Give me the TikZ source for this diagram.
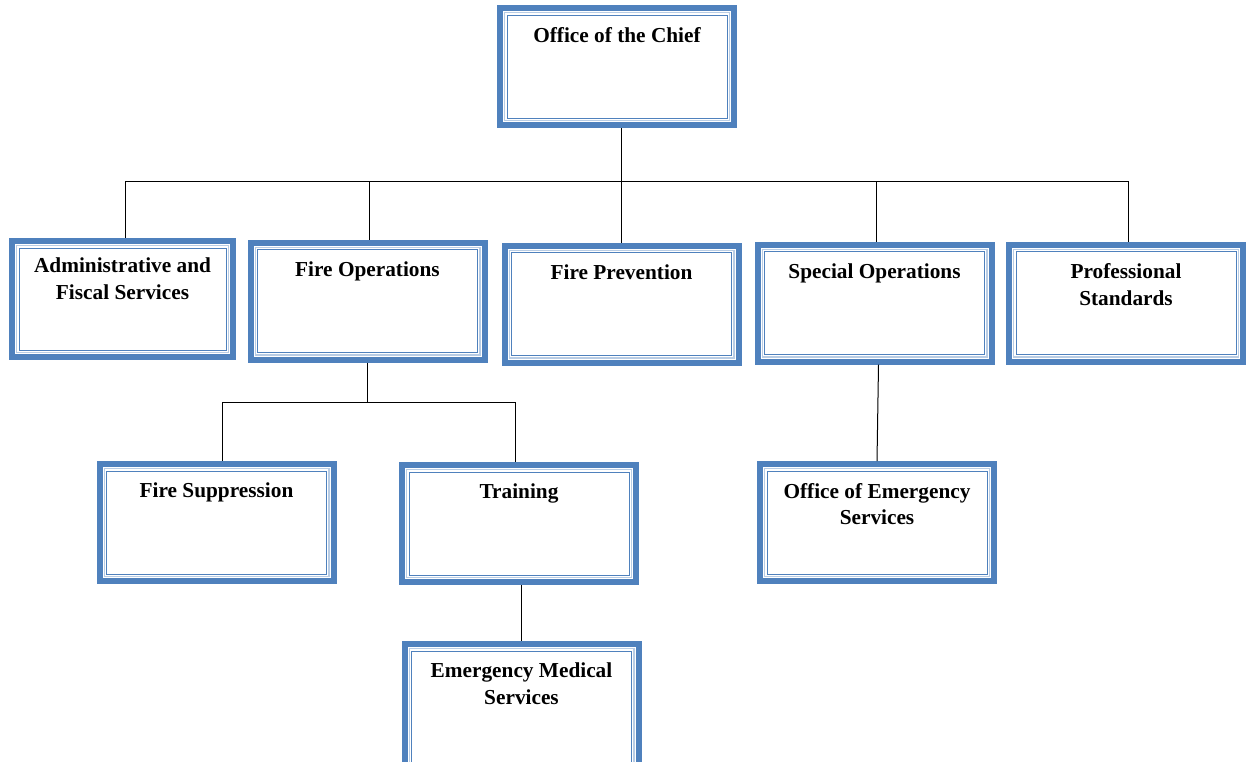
\documentclass[tikz,border=0pt]{standalone}
\usepackage{fontspec}
\setmainfont{Liberation Serif}
\definecolor{boxblue}{RGB}{79,129,189}
\definecolor{boxlight}{RGB}{184,204,228}

\begin{document}
\begin{tikzpicture}[x=1pt, y=-1pt,
    unit/.style={draw=boxblue, line width=6pt, fill=white, inner sep=0pt,
      minimum width=234pt, minimum height=117pt,
      path picture={
        \draw[boxlight, line width=1.4pt]
          ([shift={(4.7pt,-4.7pt)}]path picture bounding box.north west) rectangle
          ([shift={(-4.7pt,4.7pt)}]path picture bounding box.south east);
        \draw[boxblue, line width=1pt]
          ([shift={(7pt,-7pt)}]path picture bounding box.north west) rectangle
          ([shift={(-7pt,7pt)}]path picture bounding box.south east);
      }},
    unittext/.style={anchor=north, yshift=-22pt, inner sep=0pt, align=center,
      font=\bfseries\fontsize{21.3}{26.5}\selectfont},
    link/.style={draw=black, line width=1pt}]
  \useasboundingbox (0,0) rectangle (1246,761);

  % top
  \node[unit, label={[unittext]north:Office of the Chief}] (chief) at (617,66.5) {};

  % divisions
  \node[unit, minimum width=221pt, minimum height=116pt,
        label={[unittext, yshift=2pt]north:Administrative and\\Fiscal Services}] (admin) at (122.5,299) {};
  \node[unit, label={[unittext]north:Fire Operations}] (fireops) at (367.5,301) {};
  \node[unit, label={[unittext]north:Fire Prevention}] (prevention) at (621.5,304) {};
  \node[unit, label={[unittext]north:Special Operations}] (specops) at (874.5,303) {};
  \node[unit, label={[unittext]north:Professional\\Standards}] (prof) at (1126,303) {};

  % sections
  \node[unit, label={[unittext]north:Fire Suppression}] (suppression) at (216.5,522.5) {};
  \node[unit, label={[unittext]north:Training}] (training) at (519,523.5) {};
  \node[unit, label={[unittext]north:Office of Emergency\\Services}] (oes) at (877,522.5) {};
  \node[unit, minimum height=126pt,
        label={[unittext]north:Emergency Medical\\Services}] (ems) at (521.5,707) {};

  % connectors
  \coordinate (bus) at (0,181);
  \coordinate (opsbus) at (0,402);
  \draw[link] (prevention.north) -- (prevention.north |- chief.south);
  \draw[link] ([xshift=3pt]admin.north) -- ([xshift=3pt]admin.north |- bus)
    -- ([xshift=2pt]prof.north |- bus) -- ([xshift=2pt]prof.north);
  \draw[link] ([xshift=2pt]fireops.north) -- ([xshift=2pt]fireops.north |- bus);
  \draw[link] ([xshift=2pt]specops.north) -- ([xshift=2pt]specops.north |- bus);
  \draw[link] (fireops.south) -- (fireops.south |- opsbus);
  \draw[link] ([xshift=6pt]suppression.north) -- ([xshift=6pt]suppression.north |- opsbus)
    -- ([xshift=-4pt]training.north |- opsbus) -- ([xshift=-4pt]training.north);
  \draw[link] ([xshift=4pt]specops.south) -- (oes.north);
  \draw[link] (ems.north |- training.south) -- (ems.north);
\end{tikzpicture}
\end{document}
